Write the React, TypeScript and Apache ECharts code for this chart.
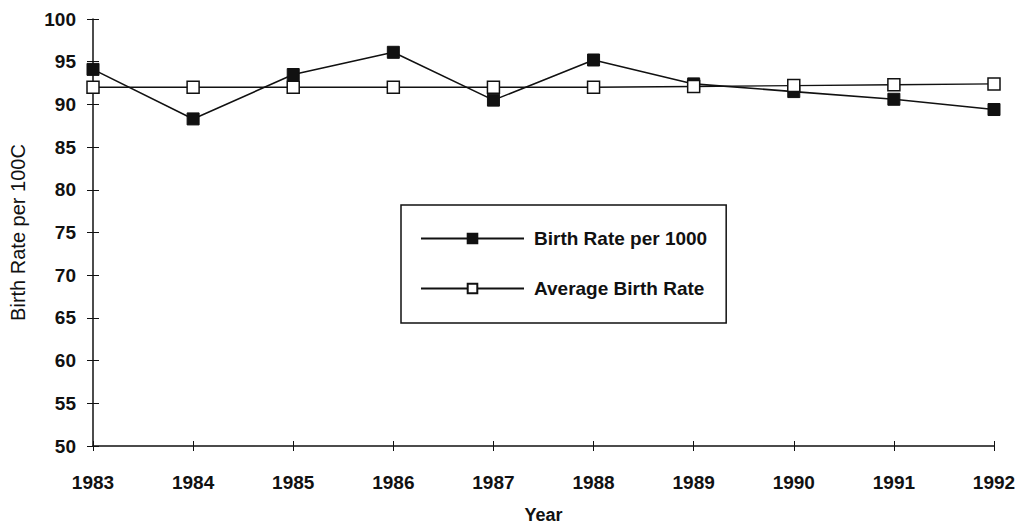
import React, { useEffect, useRef } from "react";
import * as echarts from "echarts";

const years = ["1983", "1984", "1985", "1986", "1987", "1988", "1989", "1990", "1991", "1992"];
const birthRate = [94.1, 88.3, 93.5, 96.1, 90.5, 95.2, 92.4, 91.5, 90.6, 89.4];
const averageRate = [92.0, 92.0, 92.0, 92.0, 92.0, 92.0, 92.1, 92.2, 92.3, 92.4];
const yMin = 50;
const yMax = 100;
const yStep = 5;

const FONT = "'Liberation Sans', Arial, sans-serif";

export default function App() {
  const ref = useRef<HTMLDivElement>(null);
  useEffect(() => {
    if (!ref.current) return;
    const chart = echarts.init(ref.current, undefined, { renderer: "svg" });
    const labelStyle = { color: "#111", fontFamily: FONT, fontSize: 19, fontWeight: "bold" as const };
    chart.setOption({
      animation: false,
      backgroundColor: "#fff",
      grid: { left: 91, right: 27, top: 19, bottom: 77 },
      legend: {
        orient: "vertical",
        left: 401,
        top: 205,
        padding: [23, 19, 24, 19],
        itemGap: 29,
        itemWidth: 103,
        itemHeight: 12,
        borderColor: "#111",
        borderWidth: 1.5,
        backgroundColor: "#fff",
        textStyle: { color: "#111", fontFamily: FONT, fontSize: 19, fontWeight: "bold", lineHeight: 21, padding: [0, 0, 0, 5] },
        data: ["Birth Rate per 1000", "Average Birth Rate"],
      },
      xAxis: [
        {
          type: "category",
          data: years,
          boundaryGap: false,
          name: "Year",
          nameLocation: "middle",
          nameGap: 60,
          nameTextStyle: { ...labelStyle, fontSize: 18, verticalAlign: "top" },
          axisLine: { lineStyle: { color: "#111", width: 1.5 } },
          axisTick: { show: true, length: 5, inside: false, lineStyle: { color: "#111", width: 1 } },
          axisLabel: { ...labelStyle, margin: 27 },
          splitLine: { show: false },
        },
        {
          type: "category",
          data: years,
          boundaryGap: false,
          position: "bottom",
          axisLine: { show: false },
          axisTick: { show: true, length: 5, inside: true, lineStyle: { color: "#111", width: 1 } },
          axisLabel: { show: false },
          splitLine: { show: false },
        },
      ],
      yAxis: [
        {
          type: "value",
          min: yMin,
          max: yMax,
          interval: yStep,
          name: "Birth Rate per 100C",
          nameLocation: "middle",
          nameRotate: 90,
          nameGap: 65,
          nameTextStyle: { color: "#111", fontFamily: FONT, fontSize: 20 },
          axisLine: { show: true, lineStyle: { color: "#111", width: 1.5 } },
          axisTick: { show: true, length: 6, inside: false, lineStyle: { color: "#111", width: 1 } },
          axisLabel: { ...labelStyle, margin: 17 },
          splitLine: { show: false },
        },
        {
          type: "value",
          min: yMin,
          max: yMax,
          interval: yStep,
          position: "left",
          axisLine: { show: false },
          axisTick: { show: true, length: 6, inside: true, lineStyle: { color: "#111", width: 1 } },
          axisLabel: { show: false },
          splitLine: { show: false },
        },
      ],
      series: [
        {
          name: "Birth Rate per 1000",
          type: "line",
          data: birthRate,
          symbol: "rect",
          symbolSize: 12,
          lineStyle: { color: "#111", width: 1.6 },
          itemStyle: { color: "#111", borderColor: "#111", borderWidth: 1 },
          z: 2,
        },
        {
          name: "Average Birth Rate",
          type: "line",
          data: averageRate,
          symbol: "rect",
          symbolSize: 12,
          lineStyle: { color: "#111", width: 1.4 },
          itemStyle: { color: "#fff", borderColor: "#111", borderWidth: 1.5 },
          z: 3,
        },
      ],
    });
    return () => chart.dispose();
  }, []);
  return <div ref={ref} style={{ width: 1021, height: 529, position: "absolute", left: 0, top: 0 }} />;
}
